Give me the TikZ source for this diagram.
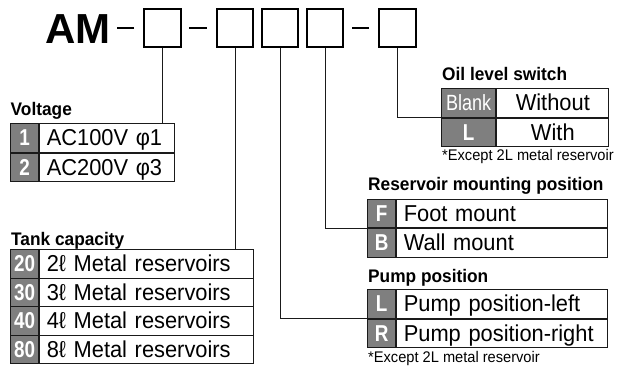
\documentclass[tikz,border=0pt]{standalone}
\usepackage{fontspec}
\setmainfont[FakeStretch=0.95]{Liberation Sans}
\newfontfamily\condfont[FakeStretch=0.82]{Liberation Sans}
\newfontfamily\logofont{Liberation Sans}
\usetikzlibrary{positioning}
\definecolor{codegray}{HTML}{7F7F7F}
\definecolor{rulecol}{HTML}{1A1A1A}
\tikzset{
  slot/.style={draw=black, line width=2.4pt, minimum width=36.5pt, minimum height=37.5pt, inner sep=0pt},
  dashline/.style={line width=2.4pt},
  link/.style={draw=rulecol, line width=1pt},
  codecell/.style={draw=rulecol, line width=1.2pt, fill=codegray, text=white, font=\condfont\bfseries\fontsize{23}{23}\selectfont, minimum width=28pt, minimum height=28.5pt, inner sep=0pt, text height=22pt, text depth=6.5pt, anchor=north west},
  textcell/.style={draw=rulecol, line width=1.2pt, fill=white, font=\fontsize{23}{23}\selectfont, text width=#1, align=left, inner xsep=7pt, inner ysep=0pt, minimum height=28.5pt, text height=22pt, text depth=6.5pt, anchor=north west},
  heading/.style={font=\bfseries\fontsize{18.2}{18.2}\selectfont, anchor=base west, inner sep=0pt},
  note/.style={font=\fontsize{15.4}{15.4}\selectfont, anchor=base west, inner sep=0pt}
}
\begin{document}
\begin{tikzpicture}[x=1pt, y=-1pt]
\useasboundingbox (0,0) rectangle (620,367);
% model code
\node[font=\logofont\bfseries\fontsize{42}{42}\selectfont, anchor=base west, inner sep=0pt] (am) at (45,43) {AM};
\node[slot] (b1) at (162.5,28) {};
\node[slot] (b2) at (235,28) {};
\node[slot] (b3) at (280,28) {};
\node[slot] (b4) at (325,28) {};
\node[slot] (b5) at (397.5,28) {};
\foreach \b in {b1,b2,b5}{
  \draw[dashline] ([xshift=-9pt]\b.west) -- ++(-17.5pt,0pt);
}
% voltage
\node[heading] (vtitle) at (10.5,115) {Voltage};
\node[codecell] (v1c) at (10,123) {1};
\node[textcell=121pt] (v1t) at (v1c.north east) {AC100V φ1};
\node[codecell] (v2c) at (v1c.south west) {2};
\node[textcell=121pt] (v2t) at (v2c.north east) {AC200V φ3};
% tank capacity
\node[heading] (ttitle) at (11,245) {Tank capacity};
\foreach \n/\l [count=\i] in {20/2,30/3,40/4,80/8}{
  \node[codecell] (t\i c) at (10,{249+28.5*(\i-1)}) {\n};
  \node[textcell=200pt] (t\i t) at (t\i c.north east) {\l ℓ Metal reservoirs};
}
% oil level switch
\node[heading] (otitle) at (442,80) {Oil level switch};
\node[codecell, minimum width=54pt, font=\condfont\fontsize{22}{22}\selectfont] (o1c) at (441,88) {Blank};
\node[textcell=98pt, align=center] (o1t) at (o1c.north east) {Without};
\node[codecell, minimum width=54pt] (o2c) at (o1c.south west) {L};
\node[textcell=98pt, align=center] (o2t) at (o2c.north east) {With};
\node[note] (onote) at (442,160) {*Except 2L metal reservoir};
% reservoir mounting position
\node[heading] (ftitle) at (368,190) {Reservoir mounting position};
\node[codecell] (f1c) at (367,198.5) {F};
\node[textcell=197pt] (f1t) at (f1c.north east) {Foot mount};
\node[codecell] (f2c) at (f1c.south west) {B};
\node[textcell=197pt] (f2t) at (f2c.north east) {Wall mount};
% pump position
\node[heading] (ptitle) at (368,282) {Pump position};
\node[codecell] (p1c) at (367,289) {L};
\node[textcell=197pt] (p1t) at (p1c.north east) {Pump position-left};
\node[codecell] (p2c) at (p1c.south west) {R};
\node[textcell=197pt] (p2t) at (p2c.north east) {Pump position-right};
\node[note] (pnote) at (368,362) {*Except 2L metal reservoir};
% leader lines
\draw[link] (b1.south) -- (b1.south |- v1t.north);
\draw[link] (b2.south) -- (b2.south |- t1t.north);
\draw[link] (b3.south) |- (p1c.south west);
\draw[link] (b4.south) |- (f1c.south west);
\draw[link] (b5.south) |- (o1c.south west);
\end{tikzpicture}
\end{document}
